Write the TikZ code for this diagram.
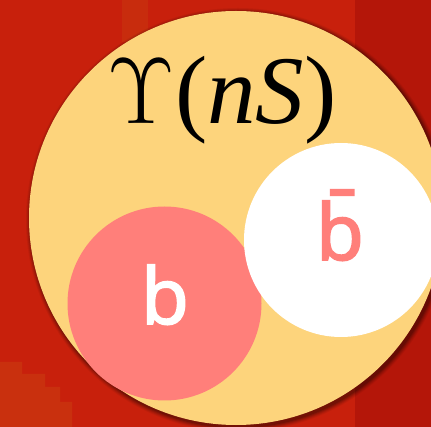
\RequirePackage{fix-cm}
\documentclass[tikz,border=0pt]{standalone}
\usepackage{fontspec}
\setmainfont{Liberation Serif}
\newfontfamily\quarkfont{Noto Sans}[FakeBold=2]
\definecolor{bgred}{RGB}{200,32,12}
\definecolor{bgdark}{RGB}{180,22,9}
\definecolor{bgorange}{RGB}{202,64,16}
\definecolor{mesonyellow}{RGB}{253,212,124}
\definecolor{quarkpink}{RGB}{255,127,122}
\tikzset{
  ball/.style={circle, draw=none, inner sep=0pt},
  quarklabel/.style={font=\quarkfont\fontsize{78}{78}\selectfont, inner sep=0pt, anchor=base},
}
\begin{document}
\begin{tikzpicture}[x=1pt,y=-1pt]
\useasboundingbox (0,0) rectangle (431,427);
% background
\fill[bgred] (0,0) rectangle (431,427);
\fill[bgdark] (355,0) rectangle (431,427);
\fill[bgorange, opacity=0.4] (122,0) rectangle (148,42);
\fill[bgorange, opacity=0.5] (0,362) -- (22,362) -- (22,374) -- (45,374) -- (45,387) -- (60,387) -- (60,402) -- (72,402) -- (72,427) -- (0,427) -- cycle;
% shadow of the meson
\foreach \d/\o in {5/0.06,4/0.08,3/0.10,2/0.12,1/0.15}
  \fill[black, opacity=\o] (238,220) circle ({207+\d});
% meson
\node[ball, fill=mesonyellow, minimum size=414pt] (meson) at (236,218) {};
\node[inner sep=0pt, anchor=base] (title) at (222,124)
  {\fontsize{94}{94}\selectfont$\Upsilon$\fontsize{97}{97}\selectfont(\textit{nS})};
% quarks
\node[ball, fill=quarkpink, minimum size=194pt] (bq) at (164.5,303.5) {};
\node[ball, fill=white, minimum size=194pt] (bbar) at (341,240) {};
\node[quarklabel, text=white] (bqlabel) at (165,324) {b};
\node[quarklabel, text=quarkpink] (bbarlabel) at (340,260) {b̄};
\end{tikzpicture}
\end{document}
